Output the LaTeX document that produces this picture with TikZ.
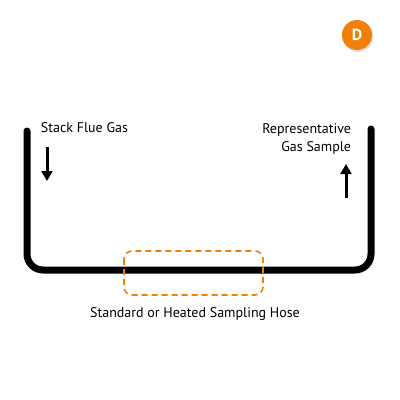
\documentclass[tikz,border=0pt]{standalone}
\usepackage{fontspec}
\setmainfont{PT Sans}
\usetikzlibrary{arrows.meta}
\definecolor{hoseorange}{RGB}{240,128,10}

\begin{document}
\begin{tikzpicture}[x=1pt,y=1pt,yscale=-1,xscale=1,
  lbl/.style={inner sep=0.75pt,font=\fontsize{14}{18.5}\selectfont},
  flow/.style={line width=3pt,-{Triangle[width=11pt,length=10pt]}}]
\useasboundingbox (0,0) rectangle (400,400);

%Shape: Hose line
\draw [line width=7pt,rounded corners=16pt,line cap=round] (27,131) -- (27,270) -- (371,270) -- (371,129);
%Shape: Dashed box
\draw [hoseorange,line width=1.6pt,dash pattern=on 6pt off 4pt,rounded corners=8pt] (124,251) rectangle (263,295);
%Shape: Circle
\fill [black!12] (358,36.5) circle (15.5);
\fill [hoseorange] (357,35) circle (15);

% Text Node
\node (badge) at (357,35) [text=white,font=\bfseries\fontsize{16}{18}\selectfont] {D};
% Text Node
\node (stack) at (40,128) [anchor=west,lbl] {Stack Flue Gas};
% Text Node
\node (sample) at (352,139) [anchor=east,align=right,lbl] {Representative\\Gas Sample};
% Text Node
\node (hose) at (195,314) [lbl] {Standard or Heated Sampling Hose};

\coordinate (downtop) at (47,147);
\coordinate (downend) at (47,181);
\coordinate (upbot) at (346,198);
\coordinate (uptip) at (346,164);
\draw [flow] (downtop) -- (downend);
\draw [flow] (upbot) -- (uptip);

\end{tikzpicture}
\end{document}
